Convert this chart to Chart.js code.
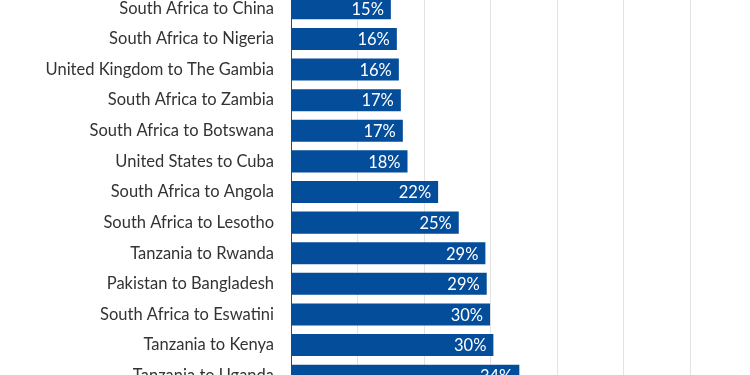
<!DOCTYPE html>
<html>
<head>
<meta charset="utf-8">
<script src="https://cdn.jsdelivr.net/npm/chart.js@4.4.1/dist/chart.umd.min.js"></script>
<style>
  html, body { margin: 0; padding: 0; background: #fff; overflow: hidden; width: 750px; height: 375px; }
  #chart { position: absolute; left: 0; top: -7px; }
</style>
</head>
<body>
<canvas id="chart" width="758" height="398"></canvas>
<script>
// corridors, top to bottom
const corridors = [
  'South Africa to China',
  'South Africa to Nigeria',
  'United Kingdom to The Gambia',
  'South Africa to Zambia',
  'South Africa to Botswana',
  'United States to Cuba',
  'South Africa to Angola',
  'South Africa to Lesotho',
  'Tanzania to Rwanda',
  'Pakistan to Bangladesh',
  'South Africa to Eswatini',
  'Tanzania to Kenya',
  'Tanzania to Uganda'
];

// average cost (%)
const costValues = [15.0, 15.9, 16.2, 16.5, 16.8, 17.5, 22.1, 25.2, 29.2, 29.4, 29.9, 30.4, 34.3];

// labels printed inside the bars
const costLabels = ['15%', '16%', '16%', '17%', '17%', '18%', '22%', '25%', '29%', '29%', '30%', '30%', '34%'];

const barColor = '#044d9a';
const fontFamily = 'Lato, "Open Sans", sans-serif';

// draws the white percentage text at the end of each bar
const barLabels = {
  id: 'barLabels',
  afterDatasetsDraw(chart) {
    const ctx = chart.ctx;
    const meta = chart.getDatasetMeta(0);
    ctx.save();
    ctx.fillStyle = '#ffffff';
    ctx.font = '16.5px ' + fontFamily;
    ctx.textAlign = 'right';
    ctx.textBaseline = 'middle';
    meta.data.forEach((bar, i) => {
      ctx.fillText(costLabels[i], bar.x - 7, bar.y + 1);
    });
    ctx.restore();
  }
};

new Chart(document.getElementById('chart'), {
  type: 'bar',
  data: {
    labels: corridors,
    datasets: [{
      data: costValues,
      backgroundColor: barColor,
      borderWidth: 0,
      barPercentage: 0.72,
      categoryPercentage: 1
    }]
  },
  options: {
    indexAxis: 'y',
    responsive: false,
    animation: false,
    layout: { padding: { left: 0, right: 1, top: 0, bottom: 0 } },
    plugins: {
      legend: { display: false },
      tooltip: { enabled: false }
    },
    scales: {
      x: {
        min: 0,
        max: 70,
        afterFit(scale) { scale.height = 0; scale.paddingLeft = 0; scale.paddingRight = 0; },
        ticks: { display: false, stepSize: 10 },
        grid: {
          color: (c) => (c.tick && c.tick.value === 0 ? 'rgba(0,0,0,0)' : '#e3e3e3'),
          lineWidth: 1,
          drawTicks: false
        },
        border: { display: false }
      },
      y: {
        afterFit(scale) { scale.width = 291; scale.paddingTop = 0; scale.paddingBottom = 0; },
        ticks: {
          color: '#333333',
          padding: 17,
          font: { family: fontFamily, size: 16.5 }
        },
        grid: { display: false, drawTicks: false },
        border: { display: true, color: '#444444', width: 1 }
      }
    }
  },
  plugins: [barLabels]
});
</script>
</body>
</html>
